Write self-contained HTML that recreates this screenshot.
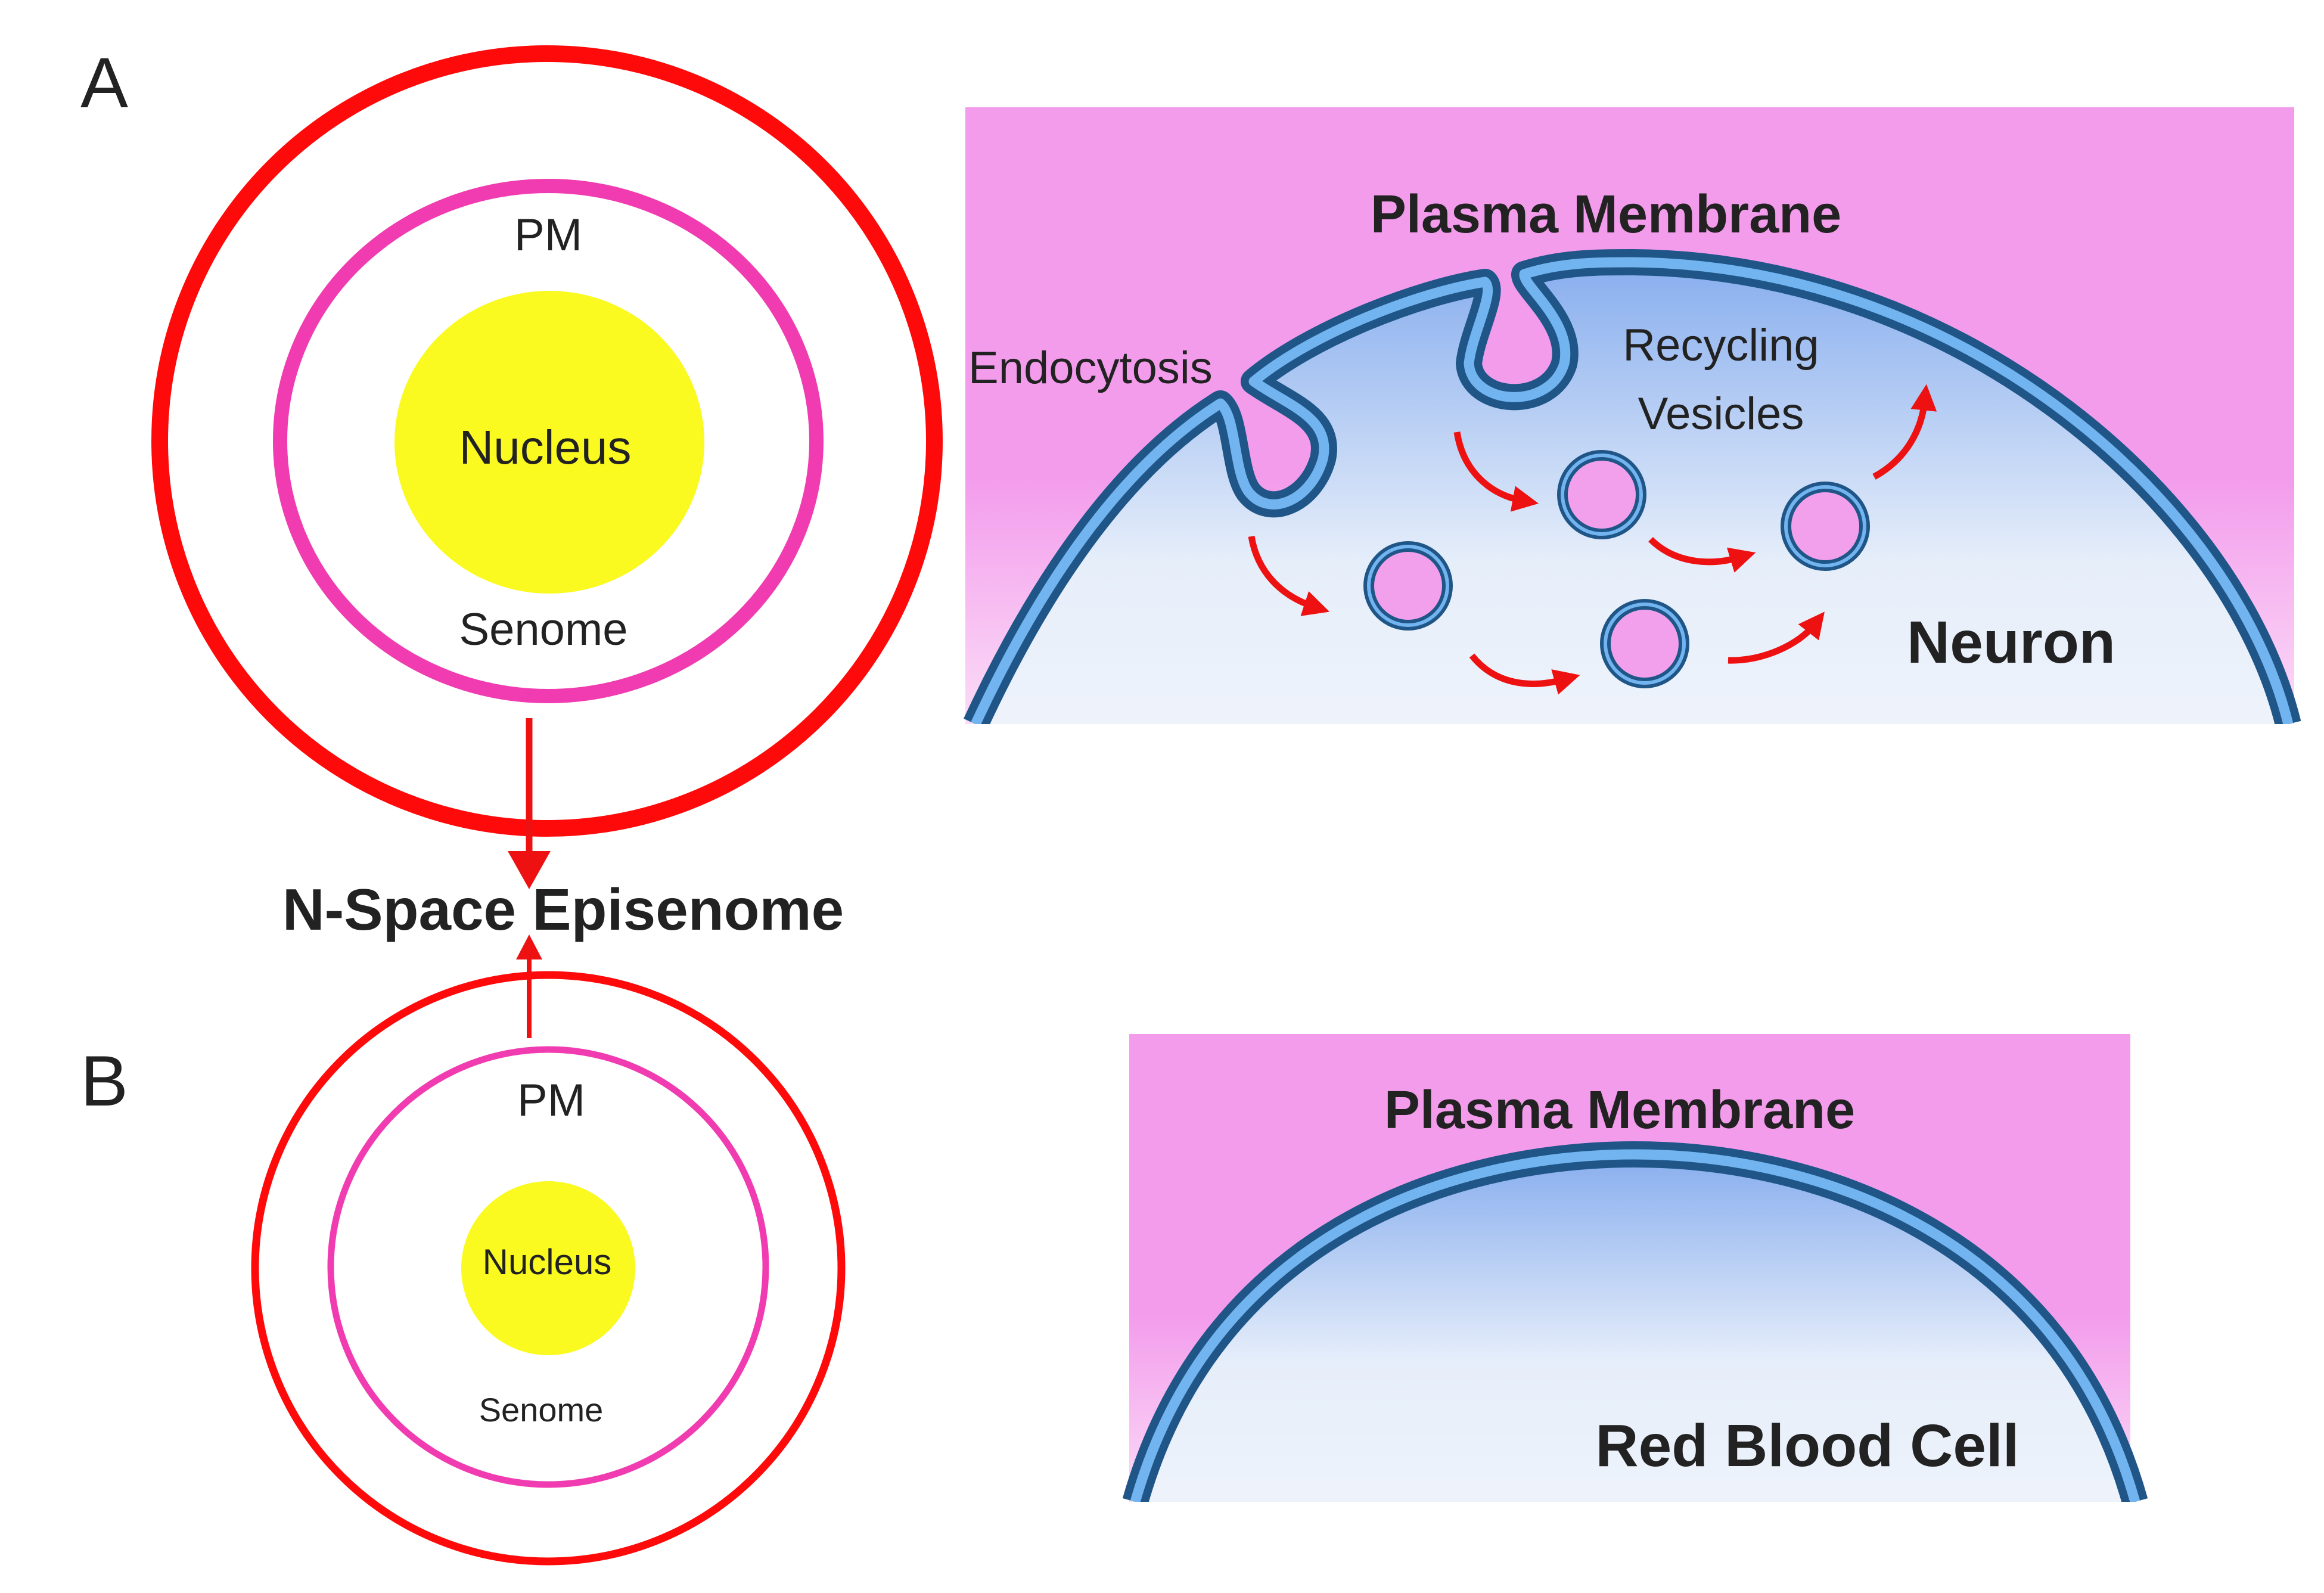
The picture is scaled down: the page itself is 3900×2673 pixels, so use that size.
<!DOCTYPE html>
<html><head><meta charset="utf-8"><style>html,body{margin:0;padding:0;background:#fff}svg{display:block}text{font-family:"Liberation Sans",sans-serif}</style></head><body>
<svg width="3900" height="2673" viewBox="0 0 3900 2673" xmlns="http://www.w3.org/2000/svg">
<defs>
<linearGradient id="bg" x1="0" y1="0" x2="0" y2="1"><stop offset="0" stop-color="#f39cec"/><stop offset="0.6" stop-color="#f39cec"/><stop offset="1" stop-color="#fbdcf7"/></linearGradient>
<linearGradient id="cell" x1="0" y1="0" x2="0" y2="1"><stop offset="0" stop-color="#88aeee"/><stop offset="0.65" stop-color="#e6eefa"/><stop offset="1" stop-color="#eef3fb"/></linearGradient>
<linearGradient id="cell2" x1="0" y1="0" x2="0" y2="1"><stop offset="0" stop-color="#88aeee"/><stop offset="0.6" stop-color="#e6eefa"/><stop offset="1" stop-color="#eef3fb"/></linearGradient>
<marker id="ah" markerWidth="4" markerHeight="4" refX="1.5" refY="2" orient="auto" markerUnits="strokeWidth"><path d="M0,0 L4,2 L0,4 Z" fill="#ee1111"/></marker>
</defs>
<!-- A -->
<text x="135" y="180" font-size="120" fill="#222">A</text>
<circle cx="918" cy="740" r="650" fill="none" stroke="#ff0a0a" stroke-width="28"/>
<ellipse cx="920" cy="740" rx="450" ry="428" fill="none" stroke="#f03cb0" stroke-width="24"/>
<ellipse cx="922" cy="742" rx="260" ry="254" fill="#fafa20"/>
<text x="920" y="420" font-size="76" fill="#222" text-anchor="middle">PM</text>
<text x="915" y="778" font-size="80" fill="#222" text-anchor="middle">Nucleus</text>
<text x="912" y="1082" font-size="76" fill="#222" text-anchor="middle">Senome</text>
<line x1="888" y1="1205" x2="888" y2="1430" stroke="#ee1111" stroke-width="11"/>
<polygon points="852,1428 924,1428 888,1492" fill="#ee1111"/>
<text x="945" y="1560" font-size="98" font-weight="bold" fill="#222" text-anchor="middle">N-Space Episenome</text>
<line x1="888" y1="1742" x2="888" y2="1600" stroke="#ee1111" stroke-width="8"/>
<polygon points="866,1610 910,1610 888,1568" fill="#ee1111"/>
<!-- B -->
<text x="135" y="1855" font-size="120" fill="#222">B</text>
<circle cx="920" cy="2128" r="492" fill="none" stroke="#ff0a0a" stroke-width="13"/>
<circle cx="920" cy="2126" r="365" fill="none" stroke="#f03cb0" stroke-width="11"/>
<circle cx="920" cy="2128" r="146" fill="#fafa20"/>
<text x="925" y="1872" font-size="76" fill="#222" text-anchor="middle">PM</text>
<text x="918" y="2138" font-size="60" fill="#222" text-anchor="middle">Nucleus</text>
<text x="908" y="2385" font-size="56" fill="#222" text-anchor="middle">Senome</text>
<!-- Neuron panel -->
<rect x="1620" y="180" width="2230" height="1035" fill="url(#bg)"/>
<path d="M1637,1215 C1760,950 1900,770 2048,677 C2075,700 2070,790 2095,825 C2130,870 2200,840 2220,770 C2235,700 2160,680 2104,640 C2200,560 2380,490 2492,473 C2510,490 2470,560 2465,610 C2470,680 2600,690 2625,610 C2640,540 2555,480 2558,460 C2620,440 2680,440 2740,440 C3300,445 3750,850 3840,1215 Z" fill="url(#cell)"/>
<path d="M1637,1215 C1760,950 1900,770 2048,677 C2075,700 2070,790 2095,825 C2130,870 2200,840 2220,770 C2235,700 2160,680 2104,640 C2200,560 2380,490 2492,473 C2510,490 2470,560 2465,610 C2470,680 2600,690 2625,610 C2640,540 2555,480 2558,460 C2620,440 2680,440 2740,440 C3300,445 3750,850 3840,1215" fill="none" stroke="#1f5687" stroke-width="44" stroke-linejoin="round"/>
<path d="M1637,1215 C1760,950 1900,770 2048,677 C2075,700 2070,790 2095,825 C2130,870 2200,840 2220,770 C2235,700 2160,680 2104,640 C2200,560 2380,490 2492,473 C2510,490 2470,560 2465,610 C2470,680 2600,690 2625,610 C2640,540 2555,480 2558,460 C2620,440 2680,440 2740,440 C3300,445 3750,850 3840,1215" fill="none" stroke="#72b4f0" stroke-width="17" stroke-linejoin="round"/>
<rect x="1620" y="1215" width="2240" height="30" fill="#fff"/>
<g fill="#f3a0ec" stroke="#1f5687" stroke-width="18">
<circle cx="2688" cy="830" r="66"/><circle cx="2363" cy="983" r="66"/><circle cx="3063" cy="883" r="66"/><circle cx="2760" cy="1080" r="66"/></g>
<g fill="none" stroke="#72b4f0" stroke-width="6">
<circle cx="2688" cy="830" r="66"/><circle cx="2363" cy="983" r="66"/><circle cx="3063" cy="883" r="66"/><circle cx="2760" cy="1080" r="66"/></g>
<g fill="none" stroke="#ee1111" stroke-width="11" marker-end="url(#ah)">
<path d="M2100,900 C2110,960 2150,1000 2205,1018"/>
<path d="M2445,725 C2455,790 2500,830 2555,840"/>
<path d="M2470,1100 C2510,1150 2570,1155 2625,1140"/>
<path d="M2770,905 C2810,945 2870,950 2920,935"/>
<path d="M2900,1108 C2960,1110 3020,1080 3045,1048"/>
<path d="M3145,800 C3200,770 3225,720 3230,672"/>
</g>
<text x="2695" y="390" font-size="90" font-weight="bold" fill="#222" text-anchor="middle">Plasma Membrane</text>
<text x="1625" y="643" font-size="76" fill="#222">Endocytosis</text>
<text x="2888" y="605" font-size="76" fill="#222" text-anchor="middle">Recycling</text>
<text x="2888" y="720" font-size="76" fill="#222" text-anchor="middle">Vesicles</text>
<text x="3200" y="1112" font-size="100" font-weight="bold" fill="#222">Neuron</text>
<!-- RBC panel -->
<rect x="1895" y="1735" width="1680" height="785" fill="url(#bg)"/>
<path d="M1905,2520 C2030,2080 2420,1937 2743,1937 C3060,1937 3460,2080 3583,2520 Z" fill="url(#cell2)"/>
<path d="M1905,2520 C2030,2080 2420,1937 2743,1937 C3060,1937 3460,2080 3583,2520" fill="none" stroke="#1f5687" stroke-width="44"/>
<path d="M1905,2520 C2030,2080 2420,1937 2743,1937 C3060,1937 3460,2080 3583,2520" fill="none" stroke="#72b4f0" stroke-width="17"/>
<rect x="1890" y="2520" width="1700" height="30" fill="#fff"/>
<text x="2718" y="1893" font-size="90" font-weight="bold" fill="#222" text-anchor="middle">Plasma Membrane</text>
<text x="3033" y="2460" font-size="100" font-weight="bold" fill="#222" text-anchor="middle">Red Blood Cell</text>
</svg>
</body></html>
